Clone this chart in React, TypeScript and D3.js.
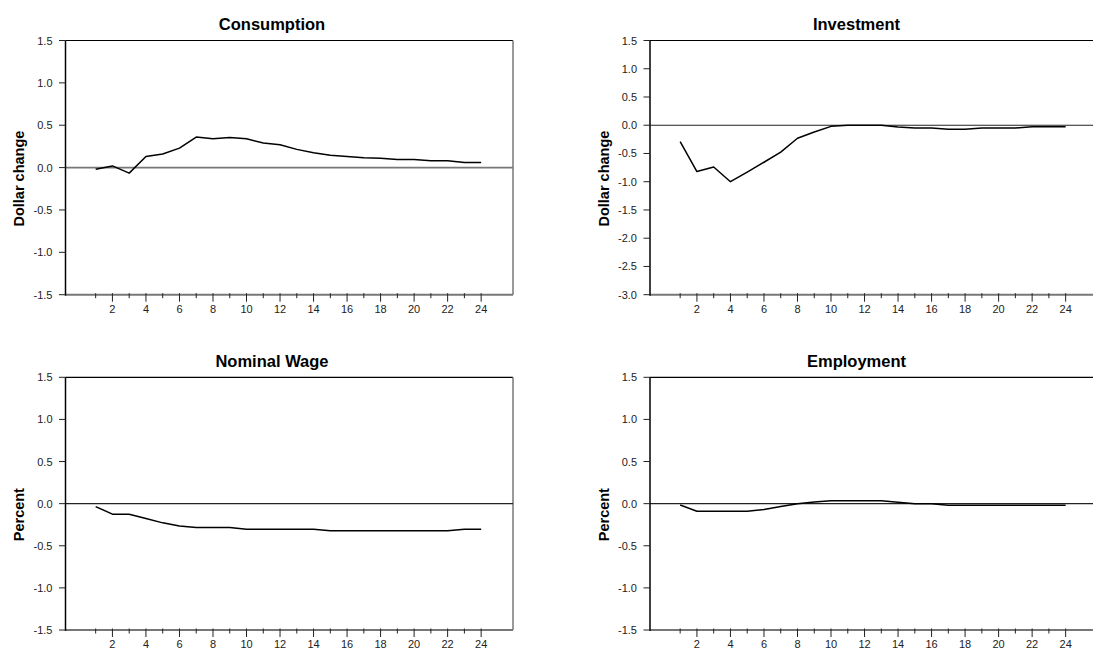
import React from "react";
import * as d3 from "d3";

const periods = d3.range(1, 25);
const consumption = [-0.02, 0.02, -0.065, 0.13, 0.16, 0.23, 0.36, 0.34, 0.355, 0.34, 0.29, 0.27, 0.215, 0.175, 0.145, 0.13, 0.115, 0.11, 0.095, 0.095, 0.08, 0.08, 0.06, 0.06];
const investment = [-0.29, -0.82, -0.74, -1.0, -0.83, -0.655, -0.475, -0.23, -0.12, -0.02, 0, 0, 0, -0.03, -0.05, -0.05, -0.07, -0.07, -0.05, -0.05, -0.05, -0.025, -0.025, -0.025];
const nominalWage = [-0.035, -0.125, -0.125, -0.177, -0.228, -0.264, -0.283, -0.283, -0.283, -0.303, -0.303, -0.303, -0.303, -0.303, -0.323, -0.323, -0.323, -0.323, -0.323, -0.323, -0.323, -0.323, -0.303, -0.303];
const employment = [-0.016, -0.09, -0.09, -0.09, -0.09, -0.07, -0.035, 0, 0.02, 0.035, 0.035, 0.035, 0.035, 0.016, 0, 0, -0.02, -0.02, -0.02, -0.02, -0.02, -0.02, -0.02, -0.02];

const titles = ["Consumption", "Investment", "Nominal Wage", "Employment"];
const yLabels = ["Dollar change", "Dollar change", "Percent", "Percent"];
const yDomains: [number, number][] = [[-1.5, 1.5], [-3.0, 1.5], [-1.5, 1.5], [-1.5, 1.5]];
const xTickLabels = [2, 4, 6, 8, 10, 12, 14, 16, 18, 20, 22, 24];
const seriesList = [consumption, investment, nominalWage, employment];

const FONT = "'Liberation Sans', Arial, Helvetica, sans-serif";

const layout = [
  { L: 65.5, T: 40.5, B: 294.7 },
  { L: 650, T: 40.5, B: 294.7 },
  { L: 65.5, T: 377.3, B: 630 },
  { L: 650, T: 377.3, B: 630 },
];
const PW = 447.5;

function Panel({ idx }: { idx: number }) {
  const { L, T, B } = layout[idx];
  const R = L + PW;
  const x = d3.scaleLinear().domain([-0.8, 25.9]).range([L, R]);
  const y = d3.scaleLinear().domain(yDomains[idx]).range([B, T]);
  const data = seriesList[idx];
  const line = d3
    .line<number>()
    .x((_, i) => x(periods[i]))
    .y((d) => y(d));
  const [y0, y1] = yDomains[idx];
  const yTicks = d3.range(Math.round((y1 - y0) / 0.5) + 1).map((i) => y0 + i * 0.5);
  const zeroFirst = idx === 0;
  return (
    <g>
      <text
        x={L + 206.5}
        y={T - 10.5}
        textAnchor="middle"
        fontFamily={FONT}
        fontWeight="bold"
        fontSize={16.5}
        fill="#000"
      >
        {titles[idx]}
      </text>
      <text
        transform={`translate(${L - 46.5},${(T + B) / 2 + 11}) rotate(-90)`}
        textAnchor="middle"
        dominantBaseline="central"
        fontFamily={FONT}
        fontWeight="bold"
        fontSize={14.5}
        fill="#000"
      >
        {yLabels[idx]}
      </text>
      {/* frame */}
      <line x1={L} x2={R} y1={T} y2={T} stroke="#000" strokeWidth={1.2} />
      <line x1={R} x2={R} y1={T} y2={B} stroke="#777" strokeWidth={1.5} />
      {/* zero line */}
      <line
        x1={L}
        x2={R}
        y1={y(0)}
        y2={y(0)}
        stroke={zeroFirst ? "#777" : "#222"}
        strokeWidth={zeroFirst ? 1.8 : 1.2}
      />
      {/* bottom axis */}
      <line x1={L} x2={R} y1={B} y2={B} stroke="#777" strokeWidth={2} />
      {periods.map((p) => {
        const major = p % 2 === 0;
        return (
          <line
            key={p}
            x1={x(p)}
            x2={x(p)}
            y1={B - 1.5}
            y2={B + (major ? 7 : 3.5)}
            stroke="#222"
            strokeWidth={1}
          />
        );
      })}
      {xTickLabels.map((p) => (
        <text
          key={p}
          x={x(p)}
          y={B + 18}
          textAnchor="middle"
          fontFamily={FONT}
          fontSize={11}
          fill="#222"
        >
          {p}
        </text>
      ))}
      {/* left axis */}
      <line x1={L} x2={L} y1={T} y2={B + 1} stroke="#000" strokeWidth={1.5} />
      {yTicks.map((v) => (
        <g key={v}>
          <line x1={L - 6.5} x2={L} y1={y(v)} y2={y(v)} stroke="#222" strokeWidth={1} />
          <text
            x={L - 13}
            y={y(v)}
            textAnchor="end"
            dominantBaseline="central"
            fontFamily={FONT}
            fontSize={11}
            fill="#222"
          >
            {v.toFixed(1)}
          </text>
        </g>
      ))}
      <path d={line(data) || ""} fill="none" stroke="#000" strokeWidth={1.5} strokeLinejoin="round" />
    </g>
  );
}

export default function App() {
  return (
    <svg
      width={1093}
      height={648}
      style={{ position: "absolute", left: 0, top: 0, background: "#fff" }}
    >
      <rect x={0} y={0} width={1093} height={648} fill="#fff" />
      {[0, 1, 2, 3].map((i) => (
        <Panel key={i} idx={i} />
      ))}
    </svg>
  );
}
